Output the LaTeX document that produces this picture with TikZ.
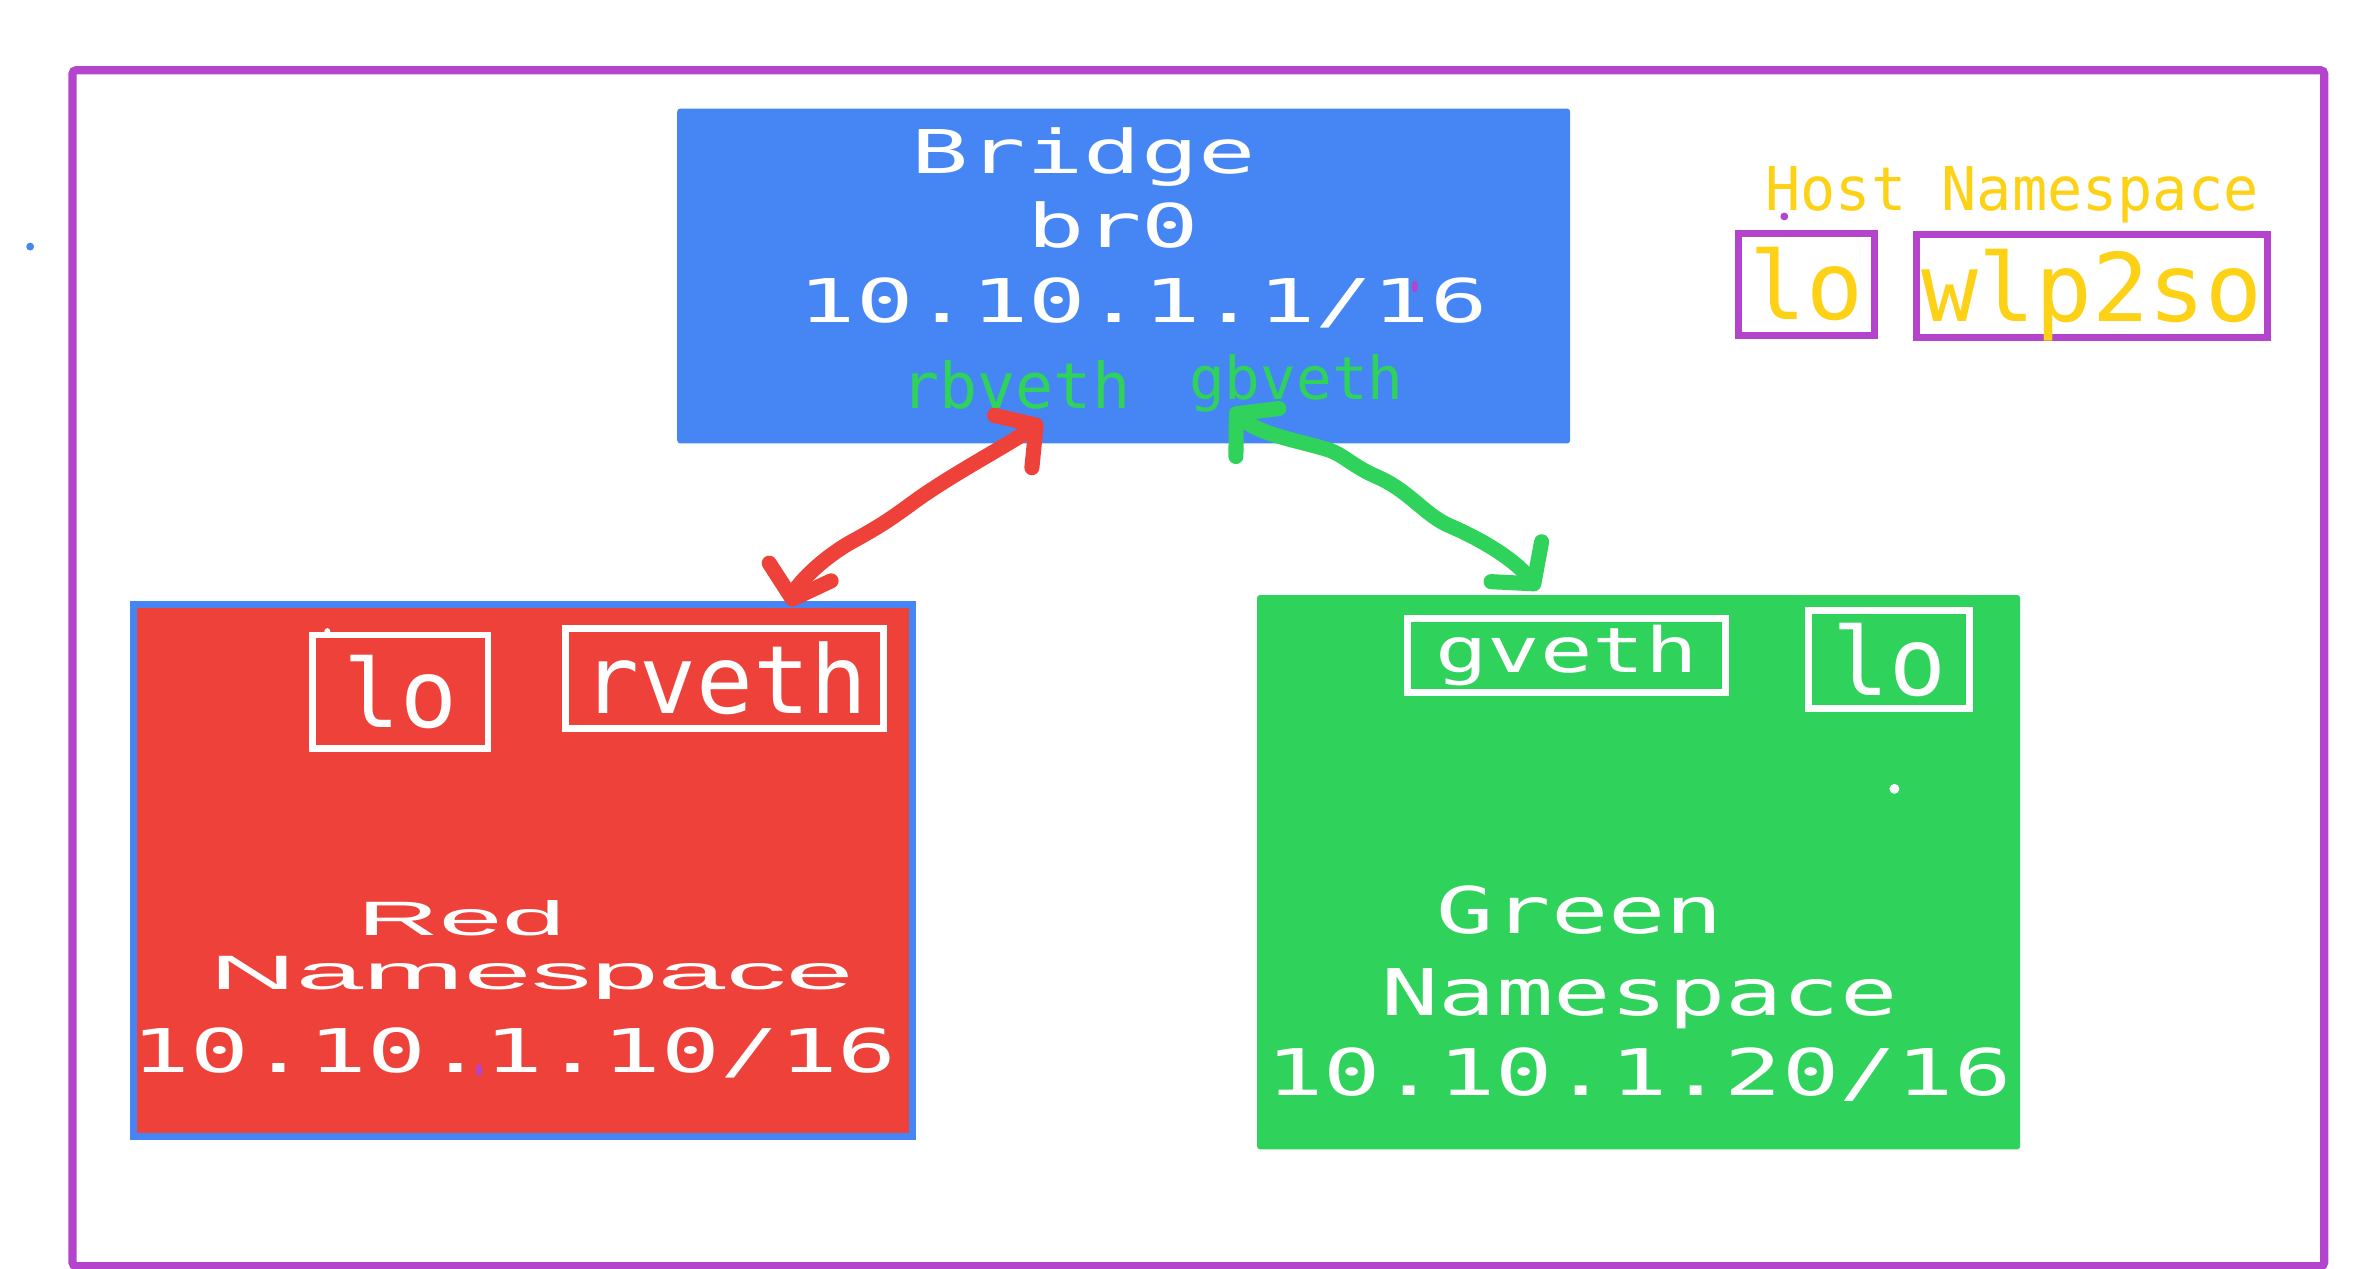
\documentclass[tikz,border=0pt]{standalone}
\usepackage{fontspec}
\usepackage{xcolor}
\usepackage{graphicx}
\usepackage{tikz}
\usetikzlibrary{arrows.meta}

\newfontfamily\netmono{DejaVu Sans Mono}
\newfontfamily\netsans{Liberation Sans}
\newcommand{\mono}[1]{\netmono\fontsize{#1}{#1}\selectfont}
\newcommand{\wide}[2]{\scalebox{#1}[1]{#2}}

\definecolor{hostpurple}{HTML}{B444CC}
\definecolor{hostyellow}{HTML}{FCD116}
\definecolor{brblue}{HTML}{4586F4}
\definecolor{nsred}{HTML}{EE4139}
\definecolor{nsgreen}{HTML}{2FD25A}

\tikzset{
  nsbox/.style={anchor=north west, inner sep=0pt, outer sep=0pt, rounded corners=1.5pt},
  ifbox/.style={anchor=north west, inner sep=0pt, outer sep=0pt, draw=white, line width=3.4pt, text=white, font=\mono{47}},
  hostif/.style={ifbox, draw=hostpurple, line width=3.5pt, text=hostyellow},
  nstext/.style={anchor=base, inner sep=0pt, text=white},
  veth/.style={draw=#1, line width=7.5pt, line cap=round, line join=round, >={Straight Barb[length=14pt,width=32pt,round]}, <->},
}

\begin{document}
\begin{tikzpicture}[x=0.75pt,y=0.75pt,yscale=-1,xscale=1]
\useasboundingbox (0,0) rectangle (1568,841);

%Shape: Rectangle (host namespace)
\draw [hostpurple, line width=4.1pt, rounded corners=2pt] (48,46.5) rectangle (1541,839.5);

%Shape: Rectangle (bridge)
\node (bridge) [nsbox, fill=brblue, minimum width=592*0.75pt, minimum height=222*0.75pt] at (449,72) {};
%Shape: Rectangle (red namespace)
\node (redns) [nsbox, rounded corners=0pt, fill=nsred, draw=brblue, line width=3.5pt, minimum width=516.3*0.75pt, minimum height=352.8*0.75pt] at (88.4,400.5) {};
%Shape: Rectangle (green namespace)
\node (greenns) [nsbox, fill=nsgreen, minimum width=506*0.75pt, minimum height=367.5*0.75pt] at (833.4,394.5) {};

%Interfaces
\node (rlo) [ifbox, minimum width=116.5*0.75pt, minimum height=75.5*0.75pt] at (207,421) {lo};
\node (rveth) [ifbox, minimum width=211*0.75pt, minimum height=66.5*0.75pt] at (375,416.5) {rveth};
\node (gveth) [ifbox, font=\mono{31}, minimum width=211*0.75pt, minimum height=49*0.75pt] at (933,410) {\wide{1.4}{gveth}};
\node (glo) [ifbox, minimum width=107*0.75pt, minimum height=65*0.75pt] at (1199,405) {lo};
\node (hlo) [hostif, minimum width=90*0.75pt, minimum height=68*0.75pt] at (1152.5,154.5) {lo};
\node (wlp2so) [hostif, text depth=0pt, minimum width=233*0.75pt, minimum height=68*0.75pt] at (1270.5,155.5) {wlp2so};

% Text Node
\node (brtitle) [nstext, font=\mono{30}] at (718.5,115) {\wide{1.58}{Bridge}};
% Text Node
\node (brdev) [nstext, font=\mono{30}] at (738,164) {\wide{1.58}{br0}};
% Text Node
\node (brip) [nstext, font=\mono{30}] at (758,213.6) {\wide{1.58}{10.10.1.1/16}};
% Text Node
\node (rbveth) [nstext, text=nsgreen, font=\mono{31.5}] at (673.5,270.6) {rbveth};
% Text Node
\node (gbveth) [nstext, text=nsgreen, font=\mono{29.5}] at (859.5,264.8) {gbveth};
% Text Node
\node (redname) [nstext, font=\netsans\fontsize{24}{24}\selectfont] at (306,620) {\wide{2.35}{Red}};
% Text Node
\node (redsub) [nstext, font=\netsans\fontsize{24}{24}\selectfont] at (352.5,656) {\wide{2.5}{Namespace}};
% Text Node
\node (redip) [nstext, font=\mono{30}] at (341,711) {\wide{1.62}{10.10.1.10/16}};
% Text Node
\node (greenname) [nstext, font=\mono{32}] at (1047.5,619) {\wide{1.48}{Green}};
% Text Node
\node (greensub) [nstext, font=\mono{32}] at (1087,673) {\wide{1.48}{Namespace}};
% Text Node
\node (greenip) [nstext, font=\mono{32}] at (1086.5,726) {\wide{1.48}{10.10.1.20/16}};
% Text Node
\node (hostname) [nstext, text=hostyellow, font=\mono{30}] at (1334,139.7) {\wide{0.97}{Host Namespace}};

%Stray marks
\fill [brblue] (20,163.5) circle (2.6);
\fill [hostpurple] (1183,143.5) circle (2.6);
\fill [hostpurple] (938,190) ellipse (2 and 4);
\fill [hostpurple] (317.7,709.5) ellipse (2 and 4);
\fill [white] (1256,523) circle (3.3);
\fill [white] (217,418.5) circle (2);

%Curve Lines (veth pairs)
\coordinate (rbveth-tip) at (691,279);
\coordinate (rveth-tip) at (524,402);
\draw [veth=nsred] (rveth-tip) .. controls (528,388) and (545,370) .. (565,359) .. controls (585,348) and (592,343) .. (607,332) .. controls (632,314) and (670,294) .. (rbveth-tip);
\coordinate (gbveth-tip) at (816,271);
\coordinate (gveth-tip) at (1020,391);
\draw [veth=nsgreen] (gbveth-tip) .. controls (835,288) and (860,292) .. (880,298) .. controls (892,302) and (896,309) .. (915,317) .. controls (936,327) and (945,342) .. (962,349) .. controls (985,359) and (1005,372) .. (gveth-tip);

\end{tikzpicture}
\end{document}
